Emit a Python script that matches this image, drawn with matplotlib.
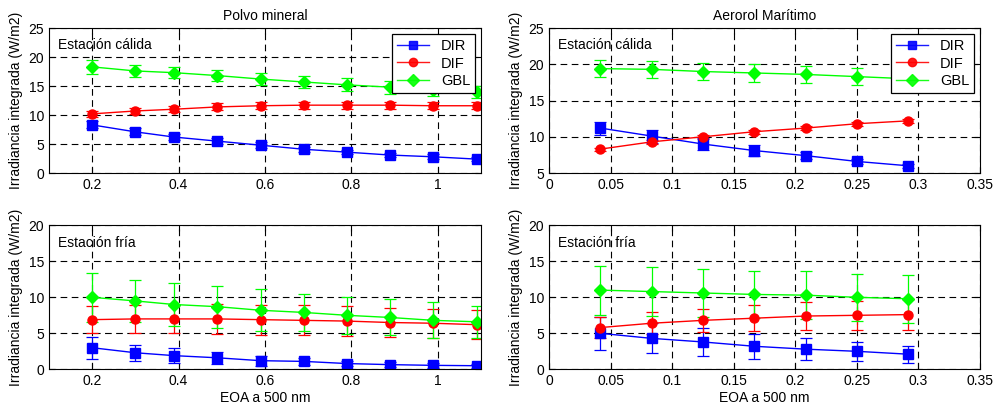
import matplotlib
matplotlib.use("Agg")
import matplotlib.pyplot as plt
from matplotlib.lines import Line2D

plt.rcParams['font.family'] = ['Liberation Sans', 'DejaVu Sans']
plt.rcParams['font.size'] = 10

# Polvo mineral
x_pm = [0.2, 0.3, 0.39, 0.49, 0.59, 0.69, 0.79, 0.89, 0.99, 1.09]
# Aerosol marítimo
x_am = [0.0417, 0.0833, 0.125, 0.1667, 0.2083, 0.25, 0.2917]

# estación cálida - polvo mineral
pm_c_dir = [8.3, 7.1, 6.2, 5.5, 4.8, 4.1, 3.6, 3.1, 2.8, 2.4]
pm_c_dir_e = [0.6, 0.6, 0.5, 0.5, 0.5, 0.4, 0.4, 0.4, 0.4, 0.4]
pm_c_dif = [10.2, 10.7, 11.0, 11.4, 11.6, 11.7, 11.7, 11.7, 11.6, 11.6]
pm_c_dif_e = [0.5, 0.5, 0.5, 0.6, 0.6, 0.6, 0.6, 0.6, 0.6, 0.6]
pm_c_gbl = [18.3, 17.6, 17.3, 16.8, 16.2, 15.7, 15.2, 14.8, 14.3, 14.0]
pm_c_gbl_e = [1.2, 1.0, 1.0, 1.0, 1.1, 1.0, 1.1, 1.1, 1.0, 1.0]

# estación fría - polvo mineral
pm_f_dir = [3.0, 2.3, 1.9, 1.6, 1.2, 1.1, 0.8, 0.65, 0.55, 0.5]
pm_f_dir_e = [1.5, 1.1, 1.0, 0.8, 0.7, 0.5, 0.4, 0.3, 0.3, 0.3]
pm_f_dif = [6.9, 7.0, 7.0, 7.0, 6.9, 6.8, 6.7, 6.5, 6.4, 6.2]
pm_f_dif_e = [1.9, 1.9, 1.95, 2.1, 2.1, 2.1, 2.1, 2.0, 2.0, 2.0]
pm_f_gbl = [10.0, 9.5, 9.0, 8.7, 8.2, 7.9, 7.5, 7.2, 6.8, 6.6]
pm_f_gbl_e = [3.4, 2.9, 3.0, 2.9, 2.9, 2.6, 2.6, 2.5, 2.5, 2.2]

# estación cálida - aerosol marítimo
am_c_dir = [11.2, 10.1, 9.0, 8.1, 7.4, 6.6, 6.0]
am_c_dir_e = [0.9, 0.9, 0.8, 0.7, 0.5, 0.4, 0.3]
am_c_dif = [8.3, 9.3, 10.0, 10.7, 11.2, 11.8, 12.2]
am_c_dif_e = [0.2, 0.3, 0.3, 0.3, 0.3, 0.3, 0.3]
am_c_gbl = [19.4, 19.3, 19.0, 18.8, 18.6, 18.3, 18.0]
am_c_gbl_e = [1.2, 1.2, 1.2, 1.2, 1.2, 1.2, 1.2]

# estación fría - aerosol marítimo
am_f_dir = [5.0, 4.3, 3.8, 3.2, 2.8, 2.5, 2.1]
am_f_dir_e = [2.3, 2.1, 1.9, 1.7, 1.5, 1.3, 1.2]
am_f_dif = [5.8, 6.4, 6.8, 7.1, 7.4, 7.5, 7.6]
am_f_dif_e = [1.5, 1.5, 1.6, 1.8, 1.9, 2.0, 2.1]
am_f_gbl = [11.0, 10.8, 10.6, 10.4, 10.3, 10.0, 9.8]
am_f_gbl_e = [3.4, 3.4, 3.4, 3.3, 3.3, 3.3, 3.3]

styles = [('b', 's', 'DIR'), ('r', 'o', 'DIF'), ('#00ff00', 'D', 'GBL')]

fig = plt.figure(figsize=(9.97, 4.12), dpi=100)
ax1 = fig.add_axes([0.0491, 0.580, 0.4333, 0.352])
ax2 = fig.add_axes([0.5507, 0.580, 0.4323, 0.352])
ax3 = fig.add_axes([0.0491, 0.1036, 0.4333, 0.3495])
ax4 = fig.add_axes([0.5507, 0.1036, 0.4323, 0.3495])


def draw(ax, x, d, de, f, fe, g, ge):
    for (y, e), (c, m, lab) in zip([(d, de), (f, fe), (g, ge)], styles):
        ax.errorbar(x, y, yerr=e, color=c, marker=m, markersize=6.5,
                    lw=1, elinewidth=0.9, capsize=4, capthick=0.9, label=lab)
    ax.grid(True, color='black', linestyle=(0, (6, 4)), linewidth=0.8)
    ax.tick_params(direction='in', length=4, top=True, right=True, labelsize=10)
    ax.set_ylabel("Irradiancia integrada (W/m2)", fontsize=10)


draw(ax1, x_pm, pm_c_dir, pm_c_dir_e, pm_c_dif, pm_c_dif_e, pm_c_gbl, pm_c_gbl_e)
draw(ax2, x_am, am_c_dir, am_c_dir_e, am_c_dif, am_c_dif_e, am_c_gbl, am_c_gbl_e)
draw(ax3, x_pm, pm_f_dir, pm_f_dir_e, pm_f_dif, pm_f_dif_e, pm_f_gbl, pm_f_gbl_e)
draw(ax4, x_am, am_f_dir, am_f_dir_e, am_f_dif, am_f_dif_e, am_f_gbl, am_f_gbl_e)

pm_ticks = [0.2, 0.4, 0.6, 0.8, 1]
am_ticks = [0, 0.05, 0.1, 0.15, 0.2, 0.25, 0.3, 0.35]
for ax in (ax1, ax3):
    ax.set_xlim(0.1, 1.1)
    ax.set_xticks(pm_ticks)
    ax.set_xticklabels(['0.2', '0.4', '0.6', '0.8', '1'])
for ax in (ax2, ax4):
    ax.set_xlim(0, 0.35)
    ax.set_xticks(am_ticks)
    ax.set_xticklabels(['0', '0.05', '0.1', '0.15', '0.2', '0.25', '0.3', '0.35'])

ax1.set_ylim(0, 25)
ax1.set_yticks([0, 5, 10, 15, 20, 25])
ax2.set_ylim(5, 25)
ax2.set_yticks([5, 10, 15, 20, 25])
for ax in (ax3, ax4):
    ax.set_ylim(0, 20)
    ax.set_yticks([0, 5, 10, 15, 20])
    ax.set_xlabel("EOA a 500 nm", fontsize=10, labelpad=2)

ax1.set_title("Polvo mineral", fontsize=10, pad=6)
ax2.set_title("Aerorol Marítimo", fontsize=10, pad=6)

handles = [Line2D([], [], color=c, marker=m, markersize=6, lw=1, alpha=0.9) for c, m, _ in styles]
labels = [lab for _, _, lab in styles]
for ax in (ax1, ax2):
    ax.text(0.02, 0.88, "Estación cálida", transform=ax.transAxes, fontsize=10, va='center')
    leg = ax.legend(handles, labels, loc='upper right', fontsize=10.5, fancybox=False,
                    edgecolor='black', framealpha=1, handlelength=2.2,
                    borderaxespad=0.4, labelspacing=0.25, borderpad=0.35)
    leg.get_frame().set_linewidth(0.9)
for ax in (ax3, ax4):
    ax.text(0.02, 0.88, "Estación fría", transform=ax.transAxes, fontsize=10, va='center')

fig.savefig("out.png", dpi=100)
